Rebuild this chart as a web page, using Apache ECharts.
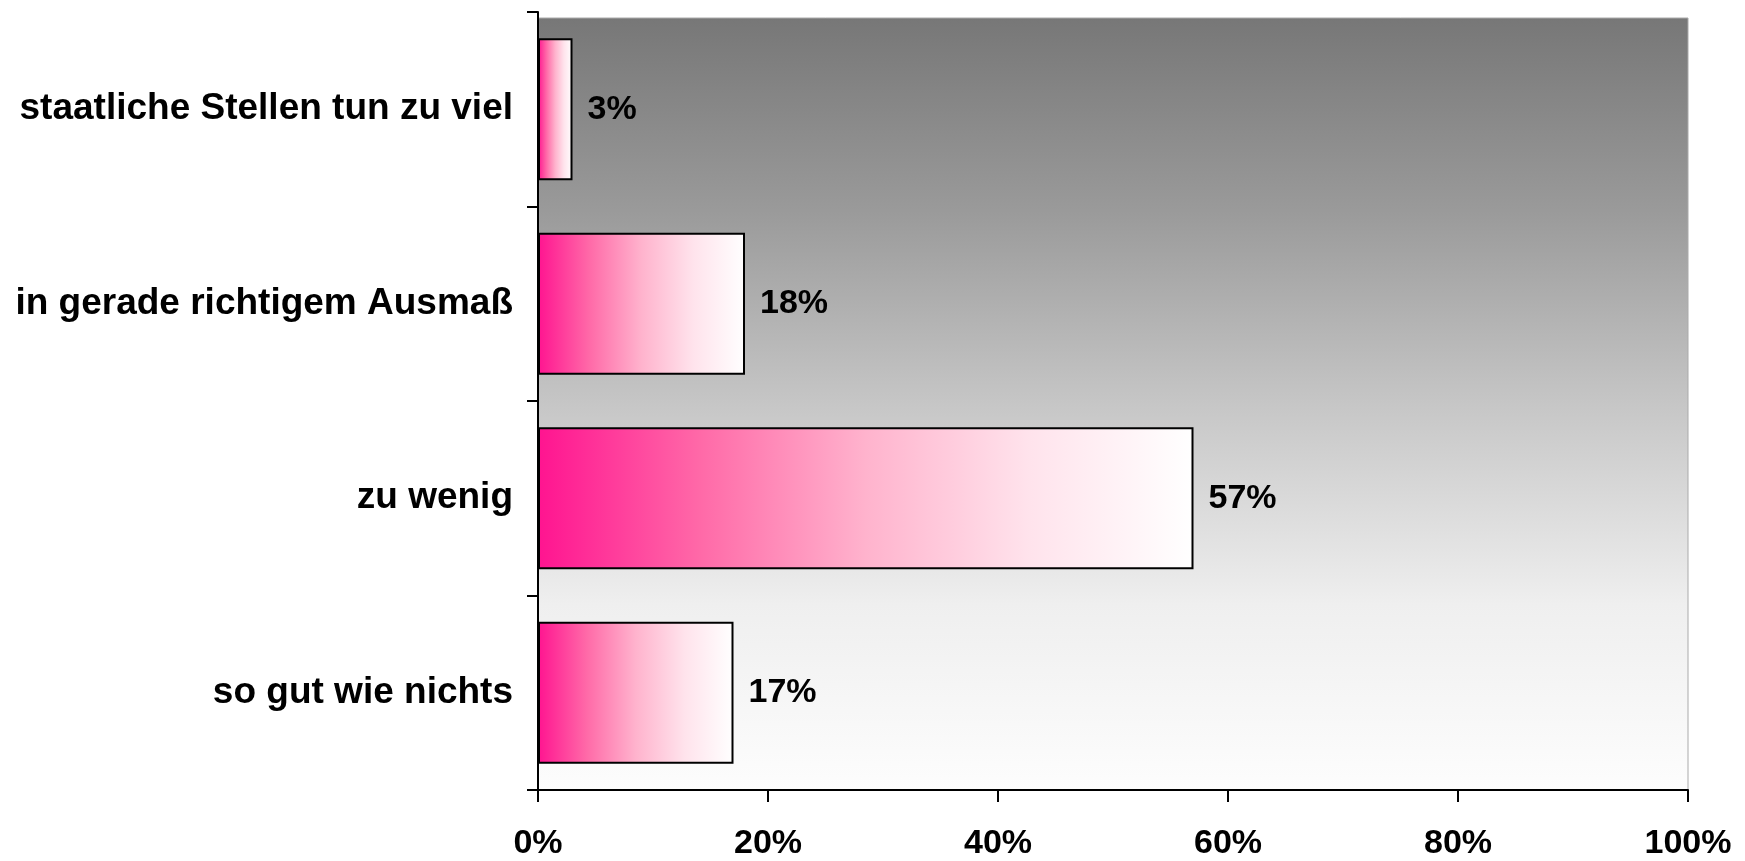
<!DOCTYPE html>
<html>
<head>
<meta charset="utf-8">
<script src="https://cdn.jsdelivr.net/npm/echarts@6/dist/echarts.min.js"></script>
<style>html,body{margin:0;padding:0;background:#fff;}#c{width:1745px;height:861px;}</style>
</head>
<body>
<div id="c"></div>
<script>
const categories = ['staatliche Stellen tun zu viel', 'in gerade richtigem Ausmaß', 'zu wenig', 'so gut wie nichts'];
const values = [3, 18, 57, 17];
const xTicks = [0, 20, 40, 60, 80, 100];

const chart = echarts.init(document.getElementById('c'), null, {renderer: 'canvas'});
const FONT = '"Liberation Sans", Arial, sans-serif';
chart.setOption({
  animation: false,
  graphic: [{
    type: 'rect', z: -10, silent: true,
    shape: {x: 538, y: 18, width: 1150, height: 772},
    style: {
      fill: new echarts.graphic.LinearGradient(0, 0, 0, 1, [
        {offset: 0, color: '#777777'},
        {offset: 0.25, color: '#9a9a9a'},
        {offset: 0.5, color: '#c6c6c6'},
        {offset: 0.76, color: '#efefef'},
        {offset: 1, color: '#fdfdfd'}
      ]),
      stroke: '#aaaaaa', lineWidth: 1
    }
  }],
  grid: {left: 538, right: 57, top: 12, bottom: 71, containLabel: false},
  xAxis: {
    type: 'value', min: 0, max: 100, interval: 20,
    splitLine: {show: false},
    axisLine: {show: true, lineStyle: {color: '#000', width: 2}},
    axisTick: {show: true, length: 12, lineStyle: {color: '#000', width: 2}},
    axisLabel: {
      margin: 37, fontFamily: FONT, fontSize: 34, fontWeight: 'bold', color: '#000',
      formatter: v => xTicks.includes(v) ? v + '%' : ''
    }
  },
  yAxis: {
    type: 'category', data: categories, inverse: true,
    axisLine: {show: true, lineStyle: {color: '#000', width: 2}},
    axisTick: {show: true, length: 11, lineStyle: {color: '#000', width: 2}},
    axisLabel: {margin: 25, fontFamily: FONT, fontSize: 37, fontWeight: 'bold', color: '#000'}
  },
  series: [{
    type: 'bar', data: values, barCategoryGap: '27%',
    itemStyle: {
      color: new echarts.graphic.LinearGradient(0, 0, 1, 0, [
        {offset: 0, color: '#ff1490'},
        {offset: 0.25, color: '#ff6aa8'},
        {offset: 0.5, color: '#ffb3cd'},
        {offset: 0.75, color: '#ffe3ec'},
        {offset: 1, color: '#ffffff'}
      ]),
      borderColor: '#000', borderWidth: 2
    },
    label: {
      show: true, position: 'right', distance: 15,
      fontFamily: FONT, fontSize: 34, fontWeight: 'bold', color: '#000',
      formatter: p => p.value + '%'
    }
  }]
});
</script>
</body>
</html>
